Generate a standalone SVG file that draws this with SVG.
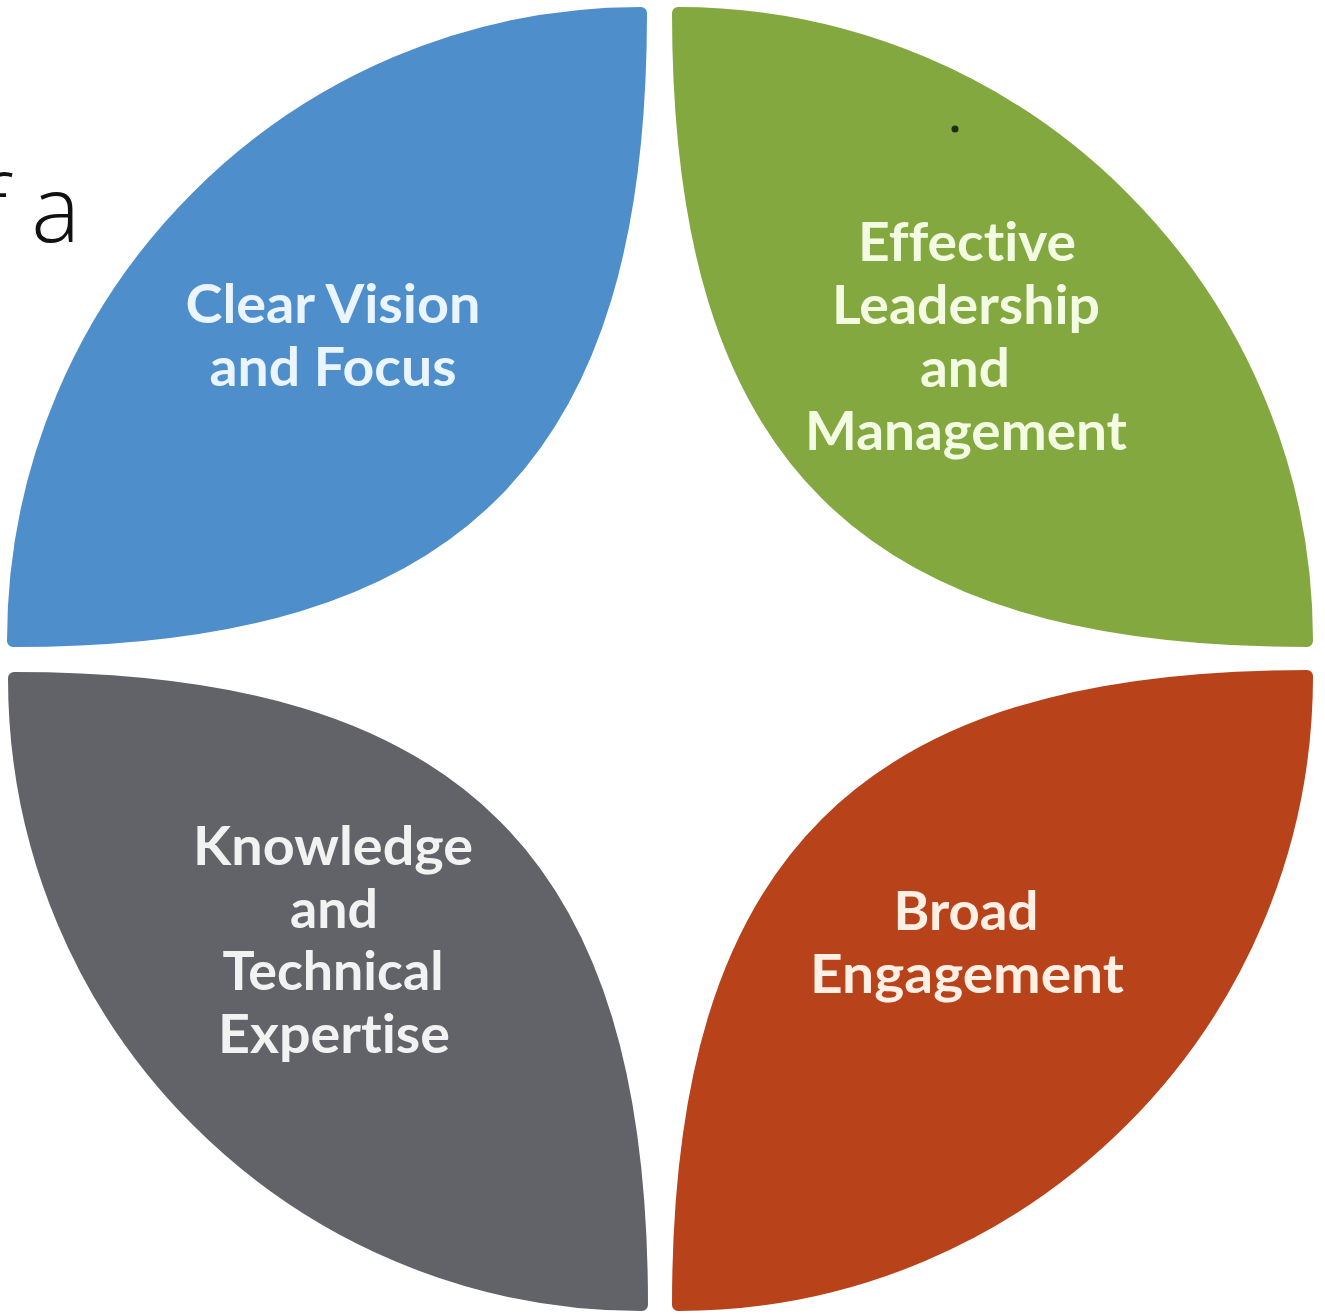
<svg xmlns="http://www.w3.org/2000/svg" width="1325" height="1316" viewBox="0 0 1325 1316">
  <style>
    .leaf { stroke-width: 12; stroke-linejoin: round; }
    .lbl { font-family: "Lato", "Open Sans", "Liberation Sans", sans-serif; font-weight: 700; font-size: 54px; text-anchor: middle; font-variant-ligatures: none; font-feature-settings: "liga" 0, "clig" 0; }
    .title { font-family: "Open Sans", "Noto Sans", "Liberation Sans", sans-serif; font-weight: 300; font-size: 92px; fill: #111111; }
  </style>
  <rect width="1325" height="1316" fill="#ffffff"/>
  <text class="title" x="80" y="242" text-anchor="end">f a</text>

  <g id="clear-vision">
    <path class="leaf" fill="#4E8ECB" stroke="#4E8ECB" d="M 13 641 C 13 294, 294 13, 641 13 C 641 458, 458 641, 13 641 Z"/>
    <text class="lbl" fill="#EAF5FF"><tspan x="333" y="323" textLength="295" lengthAdjust="spacingAndGlyphs">Clear Vision</tspan><tspan x="333" y="386" textLength="247" lengthAdjust="spacingAndGlyphs">and Focus</tspan></text>
  </g>

  <g id="effective-leadership">
    <path class="leaf" fill="#83A83F" stroke="#83A83F" d="M 678 13 C 1025 13, 1307 294, 1307 641 C 862 641, 678 458, 678 13 Z"/>
    <circle cx="955" cy="129" r="3.5" fill="#1F2D14"/>
    <text class="lbl" fill="#F4FBE3"><tspan x="967" y="261" textLength="218" lengthAdjust="spacingAndGlyphs">Effective</tspan><tspan x="966" y="324" textLength="268" lengthAdjust="spacingAndGlyphs">Leadership</tspan><tspan x="965" y="387" textLength="90" lengthAdjust="spacingAndGlyphs">and</tspan><tspan x="966" y="450" textLength="322" lengthAdjust="spacingAndGlyphs">Management</tspan></text>
  </g>

  <g id="knowledge-expertise">
    <path class="leaf" fill="#626368" stroke="#626368" d="M 14 678 C 14 1025, 295 1305, 642 1305 C 642 860, 459 678, 14 678 Z"/>
    <text class="lbl" fill="#F2F2F2"><tspan x="333" y="865" textLength="280" lengthAdjust="spacingAndGlyphs">Knowledge</tspan><tspan x="334" y="928" textLength="88" lengthAdjust="spacingAndGlyphs">and</tspan><tspan x="333" y="990" textLength="221" lengthAdjust="spacingAndGlyphs">Technical</tspan><tspan x="334" y="1053" textLength="232" lengthAdjust="spacingAndGlyphs">Expertise</tspan></text>
  </g>

  <g id="broad-engagement">
    <path class="leaf" fill="#B8421A" stroke="#B8421A" d="M 678 1305 C 1025 1305, 1307 1023, 1307 676 C 862 676, 678 860, 678 1305 Z"/>
    <text class="lbl" fill="#FFF0E6"><tspan x="966" y="930" textLength="145" lengthAdjust="spacingAndGlyphs">Broad</tspan><tspan x="967" y="993" textLength="314" lengthAdjust="spacingAndGlyphs">Engagement</tspan></text>
  </g>

  <g id="connectors"/>
</svg>
